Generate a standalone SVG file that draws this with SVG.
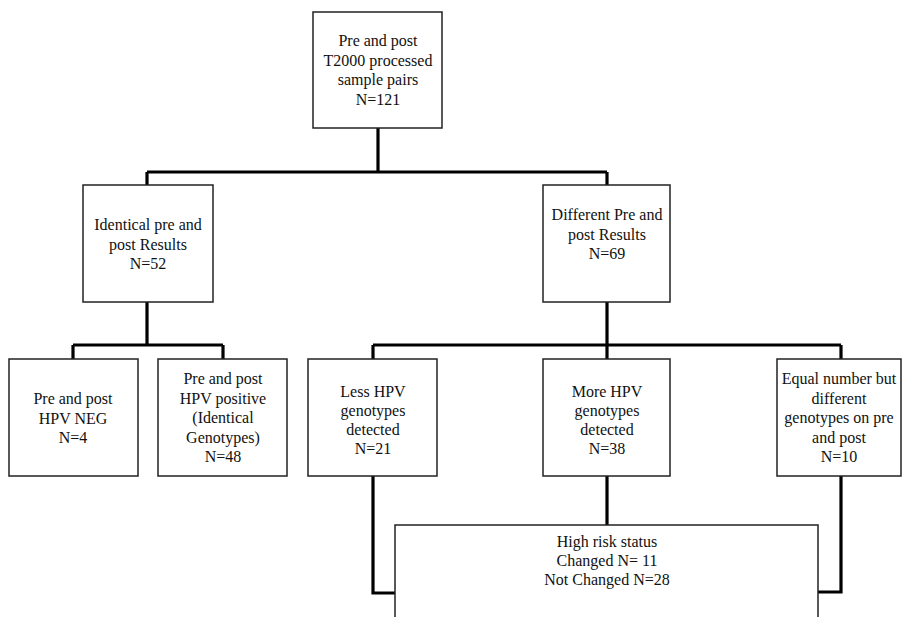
<svg xmlns="http://www.w3.org/2000/svg" width="902" height="617" viewBox="0 0 902 617">
<style>
.box{fill:#fff;stroke:#222;stroke-width:1.5}
.t{font-family:"Liberation Serif","Times New Roman",serif;font-size:16px;fill:#111;text-anchor:middle}
.c{fill:none;stroke:#000;stroke-width:3.2;stroke-linejoin:miter}
</style>
<rect width="902" height="617" fill="#fff"/>
<g id="connectors">
<path class="c" d="M378 128V172M147 172H607M147 172V185M607 172V185"/>
<path class="c" d="M147 302V345M73 345H223M73 345V359M223 345V359"/>
<path class="c" d="M607 302V345M373 345H841M373 345V359M607 345V359M841 345V359"/>
<path class="c" d="M373 476V593H395M607 476V525M841 476V592H818"/>
</g>
<g id="n-top">
<rect class="box" x="313" y="12" width="129" height="116"/>
<text class="t" x="378" y="46">Pre and post</text>
<text class="t" x="378" y="65.5">T2000 processed</text>
<text class="t" x="378" y="85">sample pairs</text>
<text class="t" x="378" y="104.5">N=121</text>
</g>
<g id="n-identical">
<rect class="box" x="83" y="185" width="130" height="117"/>
<text class="t" x="148" y="230">Identical pre and</text>
<text class="t" x="148" y="249.5">post Results</text>
<text class="t" x="148" y="269">N=52</text>
</g>
<g id="n-different">
<rect class="box" x="543" y="185" width="127" height="117"/>
<text class="t" x="607" y="220">Different Pre and</text>
<text class="t" x="607" y="239.5">post Results</text>
<text class="t" x="607" y="259">N=69</text>
</g>
<g id="n-neg">
<rect class="box" x="9" y="359" width="129" height="117"/>
<text class="t" x="73" y="404">Pre and post</text>
<text class="t" x="73" y="423.5">HPV NEG</text>
<text class="t" x="73" y="443">N=4</text>
</g>
<g id="n-pos">
<rect class="box" x="158" y="359" width="129" height="117"/>
<text class="t" x="223" y="384">Pre and post</text>
<text class="t" x="223" y="403.5">HPV positive</text>
<text class="t" x="223" y="423">(Identical</text>
<text class="t" x="223" y="442.5">Genotypes)</text>
<text class="t" x="223" y="462">N=48</text>
</g>
<g id="n-less">
<rect class="box" x="308" y="359" width="129" height="117"/>
<text class="t" x="373" y="397">Less HPV</text>
<text class="t" x="373" y="416">genotypes</text>
<text class="t" x="373" y="435">detected</text>
<text class="t" x="373" y="454">N=21</text>
</g>
<g id="n-more">
<rect class="box" x="543" y="359" width="127" height="117"/>
<text class="t" x="607" y="397">More HPV</text>
<text class="t" x="607" y="416">genotypes</text>
<text class="t" x="607" y="435">detected</text>
<text class="t" x="607" y="454">N=38</text>
</g>
<g id="n-equal">
<rect class="box" x="777" y="359" width="124" height="117"/>
<text class="t" x="839" y="384">Equal number but</text>
<text class="t" x="839" y="403.5">different</text>
<text class="t" x="839" y="423">genotypes on pre</text>
<text class="t" x="839" y="442.5">and post</text>
<text class="t" x="839" y="462">N=10</text>
</g>
<g id="n-highrisk">
<rect class="box" x="395" y="525" width="423" height="120"/>
<text class="t" x="607" y="547">High risk status</text>
<text class="t" x="607" y="566">Changed N= 11</text>
<text class="t" x="607" y="585">Not Changed N=28</text>
</g>
</svg>
